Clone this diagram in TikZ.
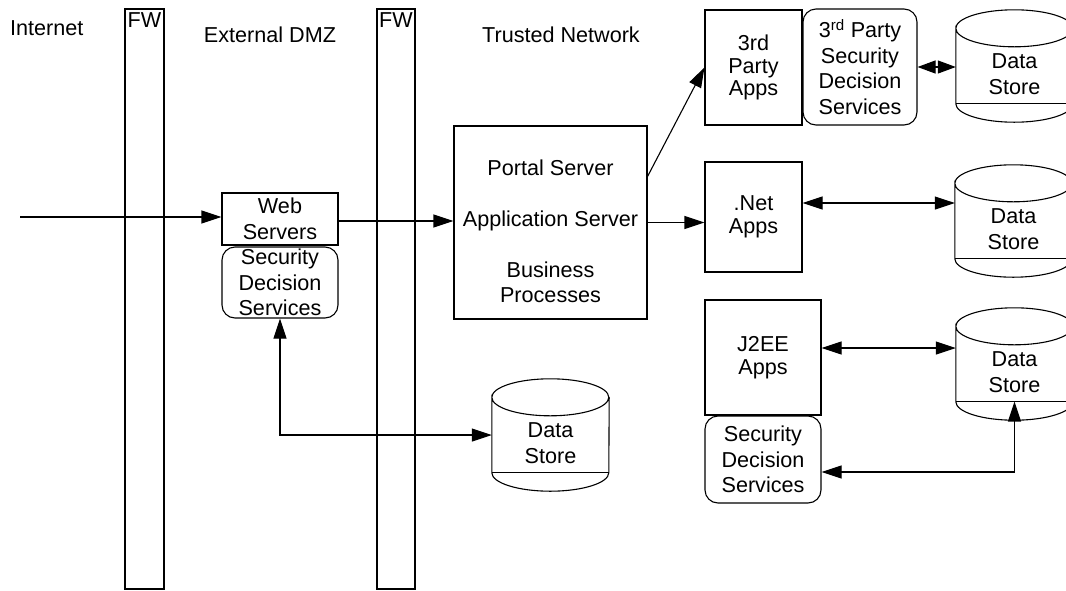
\documentclass[tikz,border=0pt]{standalone}
\usepackage{fontspec}
\setmainfont{Liberation Sans}
\usetikzlibrary{arrows.meta,calc}

\newcommand\diagfont{\fontsize{21.6}{25.5}\selectfont}
\newcommand\appfont{\fontsize{21.6}{22.5}\selectfont}

\tikzset{
  outline/.style={line width=1.1pt},
  plainbox/.style={draw, outline, rectangle, inner sep=0pt, align=center, font=\diagfont},
  appbox/.style={plainbox, font=\appfont},
  svcbox/.style={plainbox, rounded corners=13pt},
  fwbox/.style={draw, outline, rectangle, inner sep=0pt},
  caption/.style={inner sep=0pt, align=center, font=\diagfont},
  dsbody/.style={rectangle, inner sep=0pt, minimum width=117pt, minimum height=112pt},
  tip/.tip={Triangle[length=20pt,width=13pt]},
  shorttip/.tip={Triangle[length=18pt,width=13pt]},
  link/.style={outline, -tip},
  dlink/.style={outline, tip-tip},
  sdlink/.style={outline, shorttip-shorttip},
}

% Data store cylinder: #1 name, #2 left edge, #3 top edge
\newcommand\datastore[3]{%
  \node[dsbody] (#1) at (#2+58.5,#3+56) {};
  \coordinate (#1base) at (#2+58.5,#3+93.5);
  \node[caption] (#1txt) at (#2+58.5,#3+64) {Data\\Store};
  \draw[outline] ([yshift=-18.5pt]#1.north west)
      arc[start angle=180,end angle=-180,x radius=58.5pt,y radius=18.5pt]
      -- ([yshift=18.5pt]#1.south west)
      arc[start angle=180,end angle=360,x radius=58.5pt,y radius=18.5pt]
      -- ([yshift=-18.5pt]#1.north east);
  \draw[outline] ([yshift=18.5pt]#1.south west) -- ([yshift=18.5pt]#1.south east);
}

\begin{document}
\begin{tikzpicture}[x=1pt,y=-1pt]
\useasboundingbox (0,0) rectangle (1066,590);
\clip (0,0) rectangle (1066,590);

% zone captions
\node[caption, anchor=base west] (internet) at (10,35) {Internet};
\node[caption, anchor=base] (dmz) at (270,42) {External DMZ};
\node[caption, anchor=base] (trusted) at (561,42) {Trusted Network};

% firewalls
\node[fwbox, minimum width=39pt, minimum height=580pt] (fw1) at (144.5,299) {};
\node[caption, anchor=north] (fw1t) at ([yshift=-4pt]fw1.north) {FW};
\node[fwbox, minimum width=38pt, minimum height=580pt] (fw2) at (396,299) {};
\node[caption, anchor=north] (fw2t) at ([yshift=-4pt]fw2.north) {FW};

% external DMZ
\node[plainbox, minimum width=116pt, minimum height=52pt] (web) at (280,219) {Web\\Servers};
\node[svcbox, minimum width=116pt, minimum height=71pt] (sds1) at (280,282.5) {Security\\Decision\\Services};

% trusted network
\node[plainbox, minimum width=193pt, minimum height=193pt] (portal) at (550.5,222.5) {};
\node[caption] (portaltxt) at (550.5,231.5)
  {Portal Server\\[25.5pt]Application Server\\[25.5pt]Business\\Processes};

\node[appbox, minimum width=97pt, minimum height=115pt] (app3) at (753.5,67.5) {3rd\\Party\\Apps};
\node[svcbox, minimum width=114pt, minimum height=116pt] (sds3) at (860,67) {3\textsuperscript{rd} Party\\Security\\Decision\\Services};
\node[appbox, minimum width=97pt, minimum height=110pt] (net) at (753.5,217) {.Net\\Apps};
\node[appbox, minimum width=116pt, minimum height=115pt] (j2ee) at (763,357.5) {J2EE\\Apps};
\node[svcbox, minimum width=116pt, minimum height=87pt] (sds2) at (763,459.5) {Security\\Decision\\Services};

\datastore{ds1}{956}{10}
\datastore{ds2}{955}{165}
\datastore{ds3}{956}{308}
\datastore{ds4}{492}{379}

% connectors
\coordinate (inet) at (20,217);
\draw[link] (inet) -- (inet -| web.west);
\coordinate (webout) at ([yshift=-2pt]web.east);
\draw[link] (webout) -- (webout -| portal.west);
\draw[dlink] (sds1.south) |- (ds4.west);

\draw[link] (portal.east) -- (portal.east -| net.west);
\coordinate (portalup) at ([yshift=-51pt]portal.north east);
\draw[link] (portalup) -- (app3.west);

\draw[sdlink] (sds3.east) -- (sds3.east -| ds1.west);
\coordinate (netds) at ([yshift=14pt]net.east);
\draw[dlink] (netds) -- (netds -| ds2.west);
\coordinate (j2eeds) at ([yshift=9.5pt]j2ee.east);
\draw[dlink] (j2eeds) -- (j2eeds -| ds3.west);
\coordinate (sds2ds) at ([yshift=-12.5pt]sds2.east);
\draw[dlink] (sds2ds) -| (ds3base);
\end{tikzpicture}
\end{document}
